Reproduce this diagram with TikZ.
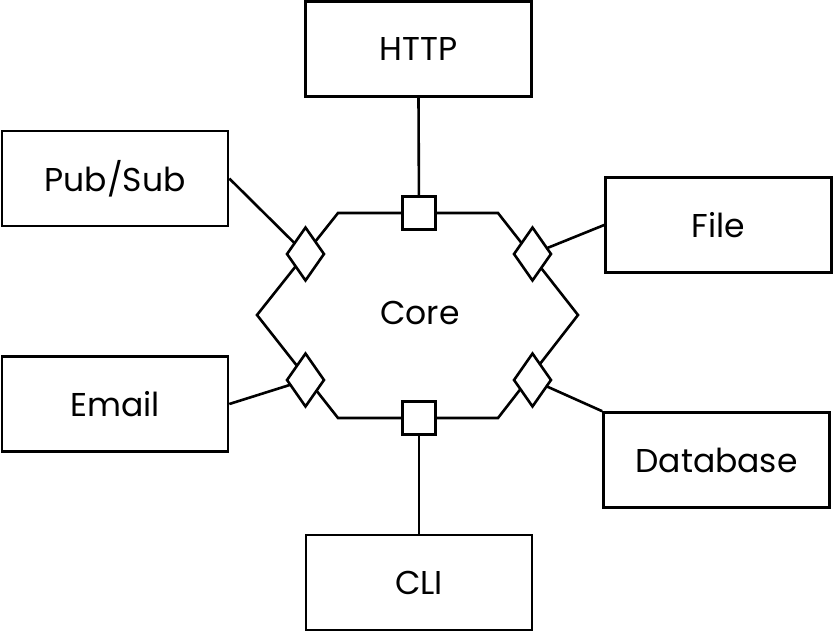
\documentclass[tikz,border=0pt]{standalone}
\usepackage{fontspec}
\setmainfont{Poppins}
\usetikzlibrary{shapes.geometric}
\begin{document}
\begin{tikzpicture}[x=1pt,y=-1pt,line width=2.6pt,
  lbl/.style={font=\fontsize{33}{38}\selectfont},
  adapter/.style={draw,rectangle,minimum width=226pt,minimum height=95pt,inner sep=0pt,lbl},
  sqport/.style={draw,rectangle,fill=white,minimum size=33pt,inner sep=0pt},
  dmport/.style={draw,diamond,fill=white,aspect=0.7,minimum width=38pt,minimum height=54pt,inner sep=0pt},
  link/.style={draw}]
\useasboundingbox (0,0) rectangle (833,633);
% hexagon
\coordinate (h1) at (338,213);
\coordinate (h2) at (498,213);
\coordinate (h3) at (578,315);
\coordinate (h4) at (498,418);
\coordinate (h5) at (338,418);
\coordinate (h6) at (257,315);
\draw[line join=miter] (h1) -- (h2) -- (h3) -- (h4) -- (h5) -- (h6) -- cycle;
\node[lbl] (core) at (420,313) {Core};
% adapters
\node[adapter] (http) at (418.5,49) {HTTP};
\node[adapter] (pubsub) at (115,178.5) {Pub/Sub};
\node[adapter] (file) at (718.5,225) {File};
\node[adapter] (email) at (115,404) {Email};
\node[adapter] (db) at (716.5,460) {Database};
\node[adapter] (cli) at (419,582.5) {CLI};
% connectors (drawn before ports)
\coordinate (ptl) at (305.5,254);
\coordinate (ptr) at (532.5,254);
\coordinate (pbl) at (305.5,380);
\coordinate (pbr) at (532.5,380);
\coordinate (pt) at (419,213);
\coordinate (pb) at (419,418);
\draw[link] (http.south) -- (pt);
\draw[link] (cli.north) -- (pb);
\draw[link] (pubsub.east) -- (ptl);
\draw[link] (file.west) -- (ptr);
\draw[link] (email.east) -- (pbl);
\draw[link] (db.north west) -- (pbr);
% ports
\node[sqport] (porttop) at (pt) {};
\node[sqport] (portbot) at (pb) {};
\node[dmport] (porttl) at (ptl) {};
\node[dmport] (porttr) at (ptr) {};
\node[dmport] (portbl) at (pbl) {};
\node[dmport] (portbr) at (pbr) {};
\end{tikzpicture}
\end{document}
